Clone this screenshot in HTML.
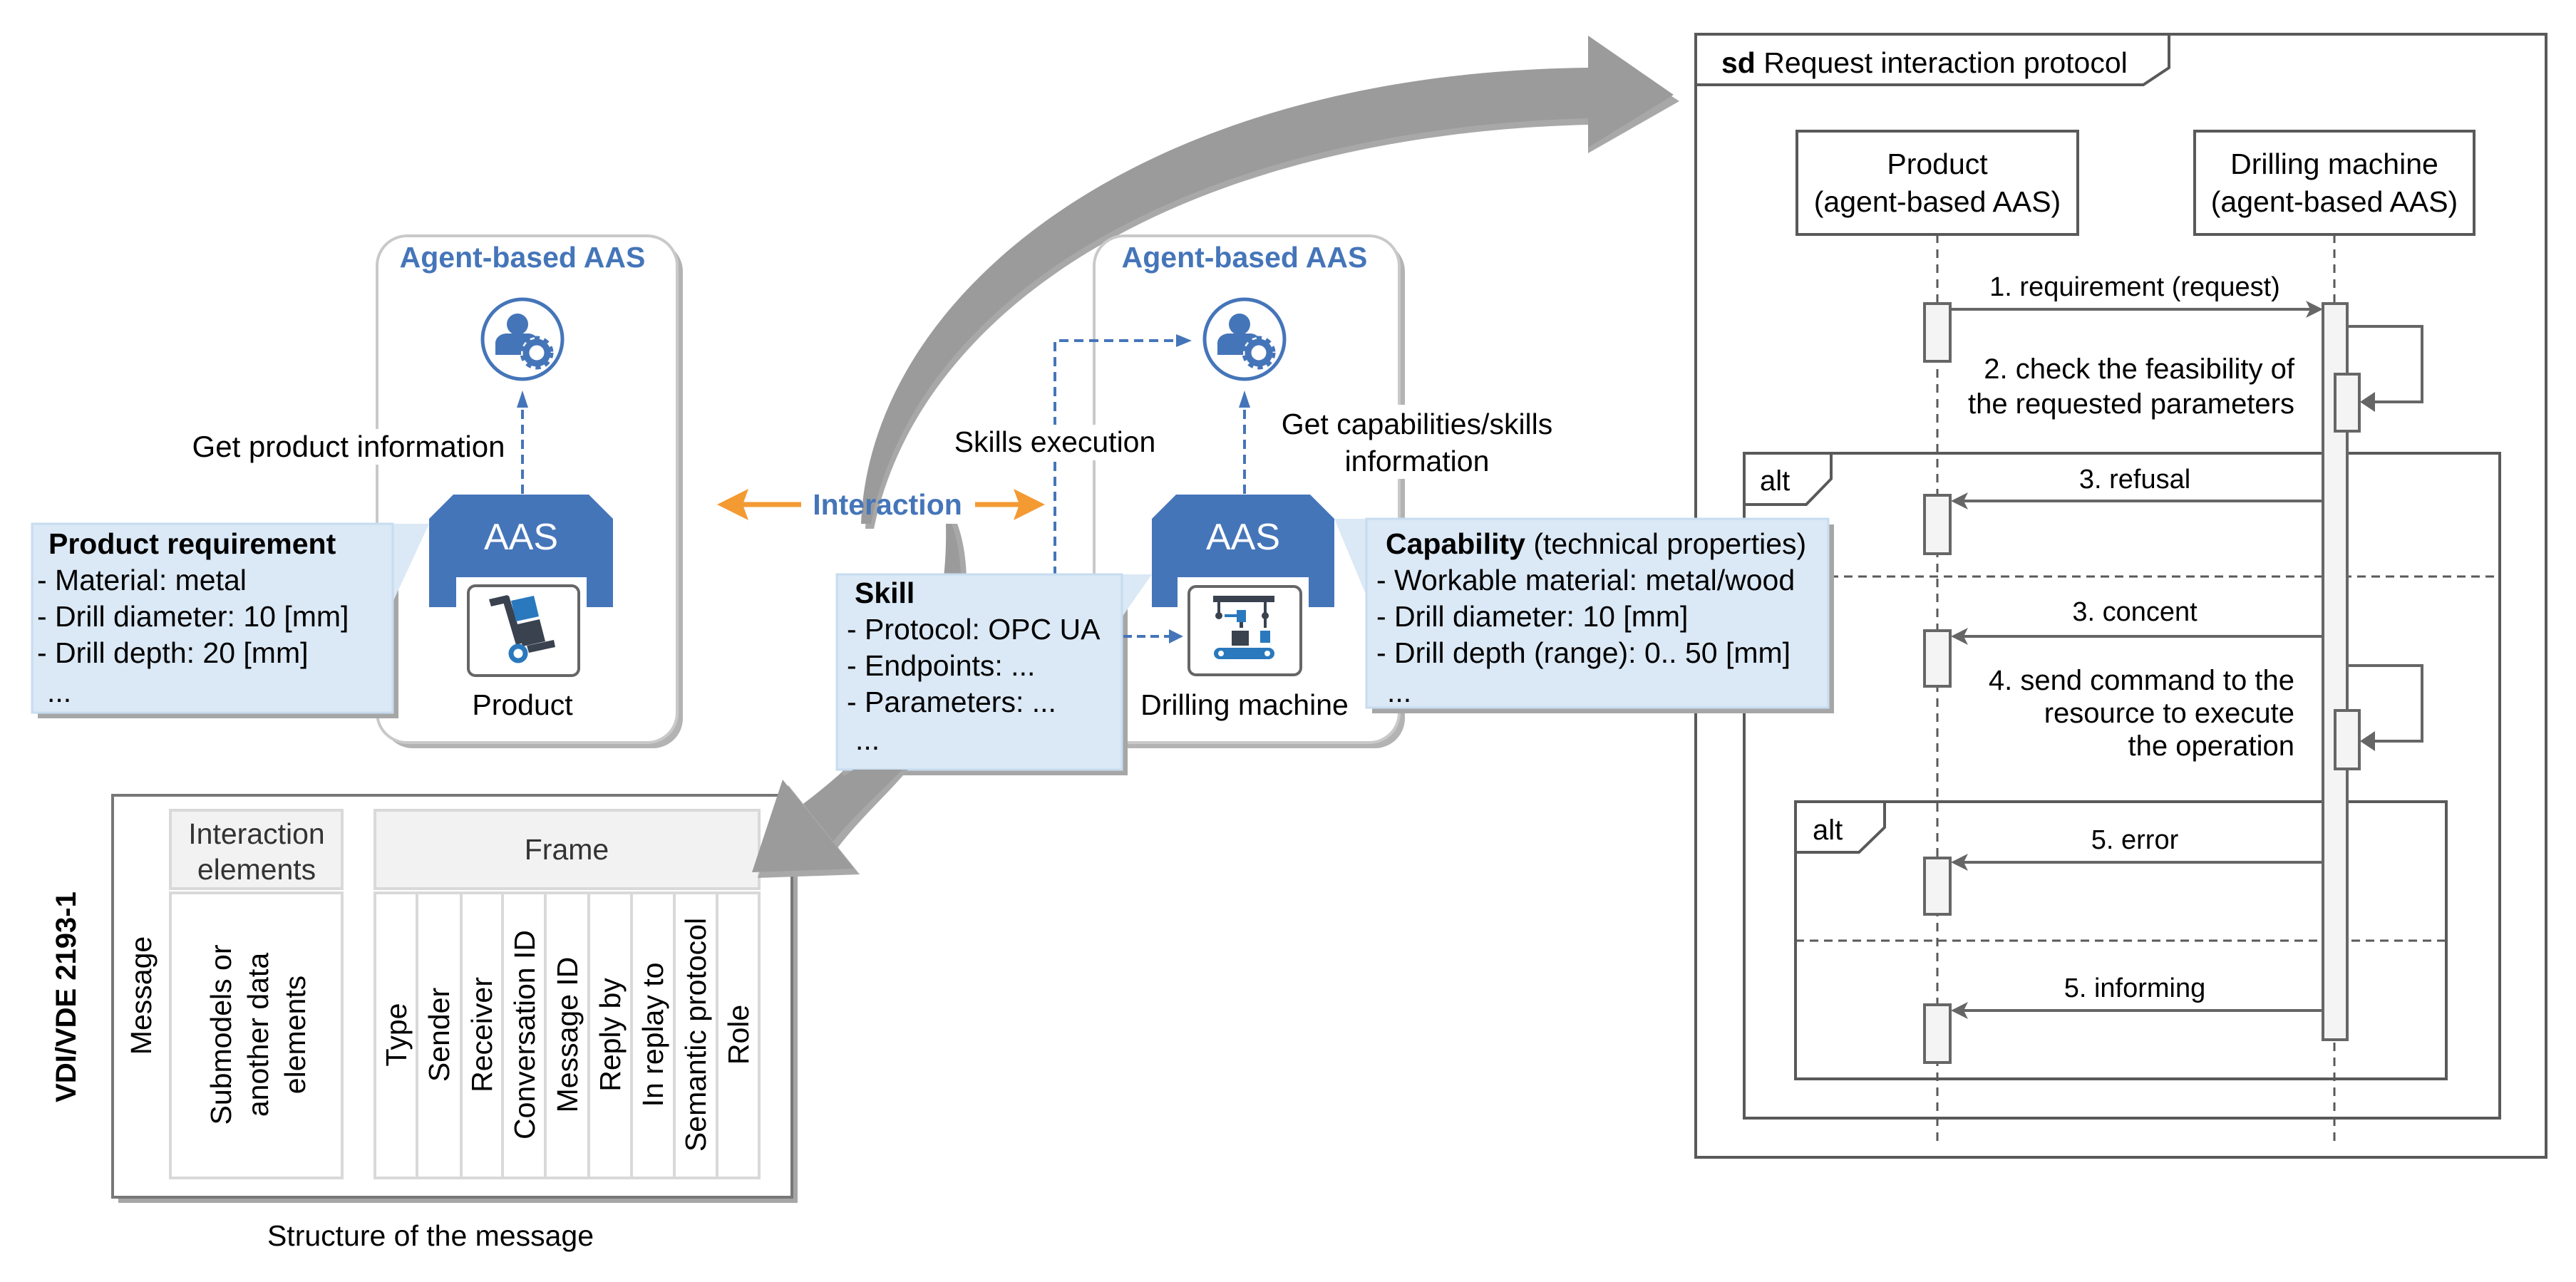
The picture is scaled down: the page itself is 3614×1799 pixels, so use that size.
<!DOCTYPE html>
<html><head><meta charset="utf-8"><style>
html,body{margin:0;padding:0;background:#fff}
svg{display:block}
text{font-family:"Liberation Sans",Arial,sans-serif}
</style></head><body>
<svg width="3614" height="1799" viewBox="0 0 3614 1799" xmlns="http://www.w3.org/2000/svg">
<defs>
<g id="agent">
 <circle cx="0" cy="0" r="56" fill="#fff" stroke="#4575b9" stroke-width="5"/>
 <circle cx="-7" cy="-21" r="15" fill="#4575b9"/>
 <path d="M-38,22 L-38,4 Q-36,-6 -24,-8 L10,-8 Q20,-6 22,2 L22,22 Z" fill="#4575b9"/>
 <circle cx="20" cy="19" r="22" fill="#fff"/>
 <circle cx="20" cy="19" r="15" fill="none" stroke="#4575b9" stroke-width="9"/>
 <circle cx="20" cy="19" r="20" fill="none" stroke="#4575b9" stroke-width="7" stroke-dasharray="7 6"/>
</g>
</defs>

<!-- upper big gray arrow -->
<path d="M1214,742 C1226,420 1600,110 2228,104 L2228,58 L2356,142 L2228,215 L2228,175 C1660,190 1290,430 1226,742 Z" fill="#a8a8a8"/>
<path d="M1208,735 C1220,415 1595,102 2228,95 L2228,50 L2348,133 L2228,207 L2228,166 C1655,182 1282,425 1222,735 Z" fill="#9a9b9a"/>
<!-- lower arrow shaft (behind boxes) -->
<path d="M1343,735 C1368,800 1366,960 1260,1075 C1230,1110 1200,1150 1175,1190 L1135,1135 C1230,1060 1340,960 1335,735 Z" fill="#a8a8a8"/>
<path d="M1335,735 C1360,800 1358,955 1252,1070 C1222,1105 1192,1145 1167,1183 L1127,1128 C1222,1055 1332,955 1327,735 Z" fill="#9a9b9a"/>

<!-- left Agent-based AAS box -->
<rect x="537" y="339" width="421" height="711" rx="42" fill="#b3b3b3"/>
<rect x="529" y="331" width="421" height="711" rx="42" fill="#fff" stroke="#c9c9c9" stroke-width="4"/>
<text x="733" y="375" font-size="41" font-weight="bold" fill="#4575b9" text-anchor="middle">Agent-based AAS</text>
<use href="#agent" x="733" y="476"/>
<line x1="733" y1="693" x2="733" y2="560" stroke="#4575b9" stroke-width="4" stroke-dasharray="13 8"/>
<path d="M733,548 L725,572 L741,572 Z" fill="#4575b9"/>
<rect x="262" y="602" width="456" height="50" fill="#fff"/>
<text x="489" y="641" font-size="42" text-anchor="middle">Get product information</text>
<path d="M602,728 L636,694 L826,694 L860,728 L860,852 L823,852 L823,810 L640,810 L640,852 L602,852 Z" fill="#4575b9"/>
<text x="731" y="771" font-size="52" fill="#fff" text-anchor="middle">AAS</text>
<rect x="657" y="822" width="155" height="126" rx="10" fill="#fff" stroke="#666" stroke-width="4"/>
<polygon points="686,841 712,835 715,845 689,851" fill="#39424e"/>
<polygon points="704,838 714,836 734,902 724,905" fill="#39424e"/>
<polygon points="717,843 749,836 756,865 724,872" fill="#2a78bd"/>
<polygon points="726,876 757,869 765,900 733,907" fill="#39424e"/>
<polygon points="739,906 777,898 779,908 742,916" fill="#39424e"/>
<circle cx="727" cy="917" r="10" fill="#fff" stroke="#2a78bd" stroke-width="7"/>
<text x="733" y="1003" font-size="41" text-anchor="middle">Product</text>

<!-- Product requirement -->
<rect x="53" y="743" width="506" height="265" fill="#a6a6a6"/>
<polygon points="540,735 602,735 551,845 540,845" fill="#dbe8f5"/>
<rect x="45" y="735" width="506" height="265" fill="#dbe8f5" stroke="#c7dcf0" stroke-width="3"/>
<text x="68" y="777" font-size="41" font-weight="bold">Product requirement</text>
<text x="52" y="828" font-size="41">- Material: metal</text>
<text x="52" y="879" font-size="41">- Drill diameter: 10 [mm]</text>
<text x="52" y="930" font-size="41">- Drill depth: 20 [mm]</text>
<text x="66" y="985" font-size="41">...</text>

<!-- right Agent-based AAS box -->
<rect x="1543" y="339" width="428" height="711" rx="42" fill="#b3b3b3"/>
<rect x="1535" y="331" width="428" height="711" rx="42" fill="#fff" stroke="#c9c9c9" stroke-width="4"/>
<text x="1746" y="375" font-size="41" font-weight="bold" fill="#4575b9" text-anchor="middle">Agent-based AAS</text>
<use href="#agent" x="1746" y="476"/>
<line x1="1746" y1="693" x2="1746" y2="560" stroke="#4575b9" stroke-width="4" stroke-dasharray="13 8"/>
<path d="M1746,548 L1738,572 L1754,572 Z" fill="#4575b9"/>
<rect x="1780" y="568" width="420" height="104" fill="#fff"/>
<text x="1988" y="609" font-size="41" text-anchor="middle">Get capabilities/skills</text>
<text x="1988" y="661" font-size="41" text-anchor="middle">information</text>
<path d="M1616,728 L1650,694 L1838,694 L1872,728 L1872,852 L1836,852 L1836,810 L1652,810 L1652,852 L1616,852 Z" fill="#4575b9"/>
<text x="1744" y="771" font-size="52" fill="#fff" text-anchor="middle">AAS</text>
<rect x="1668" y="823" width="157" height="124" rx="10" fill="#fff" stroke="#666" stroke-width="4"/>
<rect x="1702" y="836" width="86" height="9" fill="#39424e"/>
<rect x="1708" y="845" width="4" height="16" fill="#39424e"/>
<circle cx="1710" cy="864" r="5" fill="#39424e"/>
<rect x="1773" y="845" width="4" height="36" fill="#39424e"/>
<circle cx="1775" cy="864" r="5" fill="#39424e"/>
<rect x="1718" y="862" width="18" height="4" fill="#2a78bd"/>
<rect x="1735" y="856" width="13" height="17" fill="#2a78bd"/>
<rect x="1739" y="873" width="5" height="8" fill="#39424e"/>
<rect x="1728" y="885" width="24" height="21" fill="#39424e"/>
<rect x="1768" y="885" width="14" height="17" fill="#2a78bd"/>
<rect x="1703" y="909" width="85" height="16" rx="8" fill="#2a78bd"/>
<circle cx="1713" cy="917" r="4" fill="#fff"/><circle cx="1778" cy="917" r="4" fill="#fff"/>
<text x="1746" y="1003" font-size="41" text-anchor="middle">Drilling machine</text>

<!-- Skills execution -->
<polyline points="1480,808 1480,478 1658,478" fill="none" stroke="#4575b9" stroke-width="4" stroke-dasharray="13 8"/>
<path d="M1672,478 L1650,469 L1650,487 Z" fill="#4575b9"/>
<rect x="1318" y="596" width="324" height="50" fill="#fff"/>
<text x="1480" y="634" font-size="41" text-anchor="middle">Skills execution</text>

<!-- Interaction -->
<line x1="1030" y1="708" x2="1124" y2="708" stroke="#f39a33" stroke-width="7"/>
<path d="M1006,708 L1050,686 L1042,708 L1050,730 Z" fill="#f39a33"/>
<line x1="1368" y1="708" x2="1450" y2="708" stroke="#f39a33" stroke-width="7"/>
<path d="M1466,708 L1422,686 L1430,708 L1422,730 Z" fill="#f39a33"/>
<text x="1245" y="722" font-size="41" font-weight="bold" fill="#4575b9" text-anchor="middle">Interaction</text>

<!-- Skill -->
<rect x="1182" y="814" width="400" height="274" fill="#a6a6a6"/>
<polygon points="1560,806 1616,806 1574,866 1560,866" fill="#dbe8f5"/>
<rect x="1174" y="806" width="400" height="274" fill="#dbe8f5" stroke="#c7dcf0" stroke-width="3"/>
<text x="1199" y="846" font-size="41" font-weight="bold">Skill</text>
<text x="1188" y="897" font-size="41">- Protocol: OPC UA</text>
<text x="1188" y="948" font-size="41">- Endpoints: ...</text>
<text x="1188" y="999" font-size="41">- Parameters: ...</text>
<text x="1200" y="1052" font-size="41">...</text>
<line x1="1576" y1="893" x2="1645" y2="893" stroke="#4575b9" stroke-width="4" stroke-dasharray="12 7"/>
<path d="M1660,893 L1640,883 L1640,903 Z" fill="#4575b9"/>

<!-- lower arrow shaft segment below skill box -->
<path d="M1274,1080 C1240,1120 1205,1150 1175,1190 L1135,1135 C1160,1115 1185,1097 1205,1080 Z" fill="#a8a8a8"/>
<path d="M1266,1080 C1232,1115 1197,1145 1167,1183 L1127,1128 C1152,1108 1177,1095 1197,1080 Z" fill="#9a9b9a"/>

<!-- Message structure -->
<rect x="166" y="1124" width="953" height="564" fill="#a6a6a6"/>
<rect x="158" y="1116" width="953" height="564" fill="#fff" stroke="#777" stroke-width="4"/>
<text transform="translate(106,1399) rotate(-90)" font-size="40" font-weight="bold" text-anchor="middle">VDI/VDE 2193-1</text>
<text transform="translate(212,1397) rotate(-90)" font-size="41" text-anchor="middle">Message</text>
<rect x="239" y="1137" width="241" height="110" fill="#f2f2f2" stroke="#d9d9d9" stroke-width="4"/>
<text x="360" y="1184" font-size="41" fill="#333" text-anchor="middle">Interaction</text>
<text x="360" y="1234" font-size="41" fill="#333" text-anchor="middle">elements</text>
<rect x="239" y="1253" width="241" height="400" fill="#fff" stroke="#d9d9d9" stroke-width="4"/>
<text transform="translate(324,1452) rotate(-90)" font-size="41" text-anchor="middle">Submodels or</text>
<text transform="translate(376,1452) rotate(-90)" font-size="41" text-anchor="middle">another data</text>
<text transform="translate(428,1452) rotate(-90)" font-size="41" text-anchor="middle">elements</text>
<rect x="526" y="1137" width="539" height="110" fill="#f2f2f2" stroke="#d9d9d9" stroke-width="4"/>
<text x="795" y="1206" font-size="41" fill="#333" text-anchor="middle">Frame</text>
<rect x="526" y="1253" width="539" height="400" fill="#fff" stroke="#d9d9d9" stroke-width="4"/>
<g stroke="#d9d9d9" stroke-width="4">
<line x1="585" y1="1253" x2="585" y2="1653"/><line x1="647" y1="1253" x2="647" y2="1653"/>
<line x1="705" y1="1253" x2="705" y2="1653"/><line x1="765" y1="1253" x2="765" y2="1653"/>
<line x1="826" y1="1253" x2="826" y2="1653"/><line x1="886" y1="1253" x2="886" y2="1653"/>
<line x1="946" y1="1253" x2="946" y2="1653"/><line x1="1006" y1="1253" x2="1006" y2="1653"/>
</g>
<g font-size="41" text-anchor="middle">
<text transform="translate(570,1452) rotate(-90)">Type</text>
<text transform="translate(630,1452) rotate(-90)">Sender</text>
<text transform="translate(690,1452) rotate(-90)">Receiver</text>
<text transform="translate(750,1452) rotate(-90)">Conversation ID</text>
<text transform="translate(810,1452) rotate(-90)">Message ID</text>
<text transform="translate(870,1452) rotate(-90)">Reply by</text>
<text transform="translate(930,1452) rotate(-90)">In replay to</text>
<text transform="translate(990,1452) rotate(-90)">Semantic protocol</text>
<text transform="translate(1050,1452) rotate(-90)">Role</text>
</g>
<text x="604" y="1748" font-size="41" text-anchor="middle">Structure of the message</text>

<!-- lower arrow head (on top of message box) -->
<path d="M1063,1232 L1106,1102 L1206,1227 Z" fill="#a8a8a8"/>
<path d="M1055,1224 L1098,1094 L1198,1219 Z" fill="#9a9b9a"/>

<!-- Sequence diagram -->
<g stroke="#595959" stroke-width="4" fill="none">
<rect x="2379" y="48" width="1193" height="1576"/>
<path d="M2379,119 L3007,119 L3043,95 L3043,48"/>
<rect x="2521" y="184" width="394" height="145"/>
<rect x="3079" y="184" width="392" height="145"/>
<line x1="2718" y1="329" x2="2718" y2="1605" stroke-dasharray="12 9" stroke-width="3"/>
<line x1="3275" y1="329" x2="3275" y2="1605" stroke-dasharray="12 9" stroke-width="3"/>
<rect x="2447" y="636" width="1060" height="933"/>
<path d="M2447,708 L2534,708 L2569,672 L2569,636"/>
<line x1="2447" y1="809" x2="3507" y2="809" stroke-dasharray="12 8" stroke-width="3"/>
<rect x="2519" y="1125" width="913" height="389"/>
<path d="M2519,1196 L2608,1196 L2644,1161 L2644,1125"/>
<line x1="2519" y1="1320" x2="3432" y2="1320" stroke-dasharray="12 8" stroke-width="3"/>
</g>
<text x="2415" y="102" font-size="41"><tspan font-weight="bold">sd</tspan> Request interaction protocol</text>
<text x="2718" y="244" font-size="41" text-anchor="middle">Product</text>
<text x="2718" y="297" font-size="41" text-anchor="middle">(agent-based AAS)</text>
<text x="3275" y="244" font-size="41" text-anchor="middle">Drilling machine</text>
<text x="3275" y="297" font-size="41" text-anchor="middle">(agent-based AAS)</text>
<text x="2469" y="688" font-size="40">alt</text>
<text x="2543" y="1178" font-size="40">alt</text>

<g stroke="#666" stroke-width="4" fill="#f4f4f4">
<rect x="2700" y="426" width="36" height="81"/>
<rect x="2700" y="695" width="36" height="82"/>
<rect x="2700" y="885" width="36" height="78"/>
<rect x="2700" y="1204" width="36" height="79"/>
<rect x="2700" y="1410" width="36" height="81"/>
<rect x="3259" y="426" width="34" height="1033"/>
<rect x="3276" y="525" width="34" height="80"/>
<rect x="3276" y="997" width="34" height="82"/>
</g>
<g stroke="#666" stroke-width="4" fill="none">
<line x1="2736" y1="434" x2="3250" y2="434"/>
<polyline points="3293,458 3398,458 3398,564 3325,564"/>
<polyline points="3293,934 3398,934 3398,1040 3325,1040"/>
<line x1="3259" y1="703" x2="2745" y2="703"/>
<line x1="3259" y1="893" x2="2745" y2="893"/>
<line x1="3259" y1="1210" x2="2745" y2="1210"/>
<line x1="3259" y1="1418" x2="2745" y2="1418"/>
</g>
<g fill="#666">
<path d="M3259,434 L3235,422 L3241,434 L3235,446 Z"/>
<path d="M3311,564 L3332,550 L3332,578 Z"/>
<path d="M3311,1040 L3332,1026 L3332,1054 Z"/>
<path d="M2737,703 L2761,691 L2755,703 L2761,715 Z"/>
<path d="M2737,893 L2761,881 L2755,893 L2761,905 Z"/>
<path d="M2737,1210 L2761,1198 L2755,1210 L2761,1222 Z"/>
<path d="M2737,1418 L2761,1406 L2755,1418 L2761,1430 Z"/>
</g>
<g font-size="38" text-anchor="middle">
<text x="2995" y="415">1. requirement (request)</text>
<text x="2995" y="685">3. refusal</text>
<text x="2995" y="871">3. concent</text>
<text x="2995" y="1191">5. error</text>
<text x="2995" y="1399">5. informing</text>
</g>
<g font-size="40" text-anchor="end">
<text x="3219" y="531">2. check the feasibility of</text>
<text x="3219" y="580">the requested parameters</text>
<text x="3219" y="968">4. send command to the</text>
<text x="3219" y="1014">resource to execute</text>
<text x="3219" y="1060">the operation</text>
</g>

<!-- Capability (on top of sequence frame) -->
<rect x="1925" y="736" width="648" height="265" fill="#a6a6a6"/>
<polygon points="1872,728 1930,728 1930,836 1917,836" fill="#dbe8f5"/>
<rect x="1917" y="728" width="648" height="265" fill="#dbe8f5" stroke="#c7dcf0" stroke-width="3"/>
<text x="1944" y="777" font-size="41"><tspan font-weight="bold">Capability</tspan> (technical properties)</text>
<text x="1931" y="828" font-size="41">- Workable material: metal/wood</text>
<text x="1931" y="879" font-size="41">- Drill diameter: 10 [mm]</text>
<text x="1931" y="930" font-size="41">- Drill depth (range): 0.. 50 [mm]</text>
<text x="1946" y="985" font-size="41">...</text>
</svg>
</body></html>
